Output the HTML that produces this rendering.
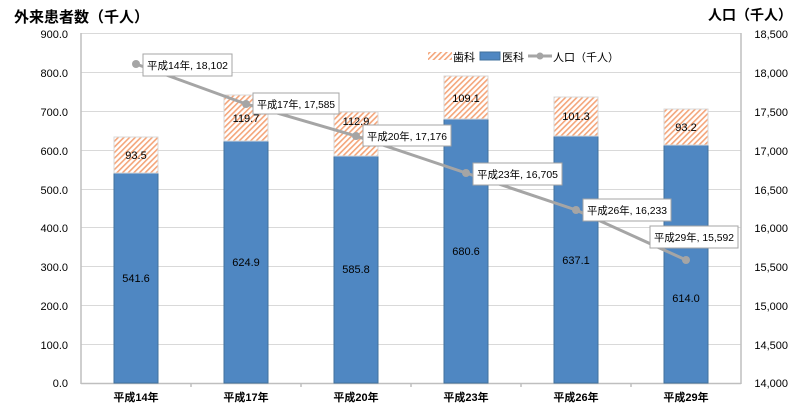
<!DOCTYPE html>
<html><head><meta charset="utf-8"><style>
body{margin:0;background:#fff}
svg{display:block}
text{font-family:"Liberation Sans","Noto Sans CJK JP",sans-serif;fill:#000}
</style></head><body>
<svg width="800" height="413" viewBox="0 0 800 413">
<defs>
<pattern id="h" patternUnits="userSpaceOnUse" width="4" height="4" patternTransform="rotate(45)">
<rect width="4" height="4" fill="#fff"/><rect width="1.6" height="4" fill="#f4a57a"/>
</pattern>
</defs>
<text x="14" y="22" font-size="15" font-weight="bold">外来患者数（千人）</text>
<text x="792" y="20" font-size="14" font-weight="bold" text-anchor="end">人口（千人）</text>
<g stroke="#d9d9d9" stroke-width="1">
<line x1="81" x2="741" y1="33.5" y2="33.5"/><line x1="81" x2="741" y1="72.5" y2="72.5"/>
<line x1="81" x2="741" y1="111.5" y2="111.5"/><line x1="81" x2="741" y1="150.5" y2="150.5"/>
<line x1="81" x2="741" y1="189.5" y2="189.5"/><line x1="81" x2="741" y1="227.5" y2="227.5"/>
<line x1="81" x2="741" y1="266.5" y2="266.5"/><line x1="81" x2="741" y1="305.5" y2="305.5"/>
<line x1="81" x2="741" y1="344.5" y2="344.5"/>
</g>
<g stroke="#bfbfbf" stroke-width="1.5">
<line x1="81" x2="81" y1="33" y2="384"/><line x1="741" x2="741" y1="33" y2="384"/>
<line x1="81" x2="741" y1="383.5" y2="383.5"/>
<line x1="191" x2="191" y1="383" y2="387"/><line x1="301" x2="301" y1="383" y2="387"/>
<line x1="411" x2="411" y1="383" y2="387"/><line x1="521" x2="521" y1="383" y2="387"/>
<line x1="631" x2="631" y1="383" y2="387"/>
</g>
<g font-size="11" text-anchor="end">
<text x="68" y="38">900.0</text><text x="68" y="77">800.0</text><text x="68" y="116">700.0</text>
<text x="68" y="155">600.0</text><text x="68" y="194">500.0</text><text x="68" y="232">400.0</text>
<text x="68" y="271">300.0</text><text x="68" y="310">200.0</text><text x="68" y="349">100.0</text>
<text x="68" y="387">0.0</text>
</g>
<g font-size="11" text-anchor="end">
<text x="788" y="38">18,500</text><text x="788" y="77">18,000</text><text x="788" y="116">17,500</text>
<text x="788" y="155">17,000</text><text x="788" y="194">16,500</text><text x="788" y="232">16,000</text>
<text x="788" y="271">15,500</text><text x="788" y="310">15,000</text><text x="788" y="349">14,500</text>
<text x="788" y="387">14,000</text>
</g>
<g stroke="#41719c" stroke-width="1" fill="#4f87c2">
<rect x="114" y="173" width="44" height="210"/>
<rect x="224" y="141" width="44" height="242"/>
<rect x="334" y="156" width="44" height="227"/>
<rect x="444" y="119" width="44" height="264"/>
<rect x="554" y="136" width="44" height="247"/>
<rect x="664" y="145" width="44" height="238"/>
</g>
<g stroke="#d9d9d9" stroke-width="1" fill="url(#h)">
<rect x="114" y="137" width="44" height="36"/>
<rect x="224" y="95" width="44" height="46"/>
<rect x="334" y="112" width="44" height="44"/>
<rect x="444" y="76" width="44" height="43"/>
<rect x="554" y="97" width="44" height="39"/>
<rect x="664" y="109" width="44" height="36"/>
</g>
<g font-size="11" text-anchor="middle">
<text x="136" y="159">93.5</text><text x="246" y="122">119.7</text><text x="356" y="125">112.9</text>
<text x="466" y="102">109.1</text><text x="576" y="120">101.3</text><text x="686" y="131">93.2</text>
<text x="136" y="282">541.6</text><text x="246" y="266">624.9</text><text x="356" y="273">585.8</text>
<text x="466" y="255">680.6</text><text x="576" y="264">637.1</text><text x="686" y="302">614.0</text>
</g>
<polyline points="136,64 246,104 356,136 466,173 576,210 686,260" fill="none" stroke="#a5a5a5" stroke-width="3"/>
<g fill="#a5a5a5"><circle cx="136" cy="64" r="4"/><circle cx="246" cy="104" r="4"/><circle cx="356" cy="136" r="4"/><circle cx="466" cy="173" r="4"/><circle cx="576" cy="210" r="4"/><circle cx="686" cy="260" r="4"/></g>
<g fill="#fff" stroke="#a5a5a5" stroke-width="1">
<rect x="143" y="54" width="89" height="22"/><rect x="253" y="93" width="86" height="21"/>
<rect x="363" y="125" width="88" height="21"/><rect x="473" y="163" width="89" height="22"/>
<rect x="583" y="199" width="88" height="22"/><rect x="650" y="226" width="88" height="22"/>
</g>
<g font-size="10.5">
<text x="147" y="69" textLength="81" lengthAdjust="spacingAndGlyphs">平成14年, 18,102</text>
<text x="257" y="108" textLength="78" lengthAdjust="spacingAndGlyphs">平成17年, 17,585</text>
<text x="367" y="140" textLength="80" lengthAdjust="spacingAndGlyphs">平成20年, 17,176</text>
<text x="477" y="178" textLength="81" lengthAdjust="spacingAndGlyphs">平成23年, 16,705</text>
<text x="587" y="214" textLength="80" lengthAdjust="spacingAndGlyphs">平成26年, 16,233</text>
<text x="654" y="241" textLength="80" lengthAdjust="spacingAndGlyphs">平成29年, 15,592</text>
</g>
<rect x="428" y="52" width="24" height="8" fill="url(#h)"/>
<text x="453" y="61" font-size="11">歯科</text>
<rect x="480" y="52" width="20" height="8" fill="#4f87c2" stroke="#41719c"/>
<text x="502" y="61" font-size="11">医科</text>
<line x1="528" x2="552" y1="56" y2="56" stroke="#a5a5a5" stroke-width="3"/><circle cx="540" cy="56" r="3.5" fill="#a5a5a5"/>
<text x="553" y="61" font-size="11">人口（千人）</text>
<g font-size="11" text-anchor="middle" font-weight="bold">
<text x="136" y="401">平成14年</text><text x="246" y="401">平成17年</text><text x="356" y="401">平成20年</text>
<text x="466" y="401">平成23年</text><text x="576" y="401">平成26年</text><text x="686" y="401">平成29年</text>
</g>
</svg>
</body></html>
